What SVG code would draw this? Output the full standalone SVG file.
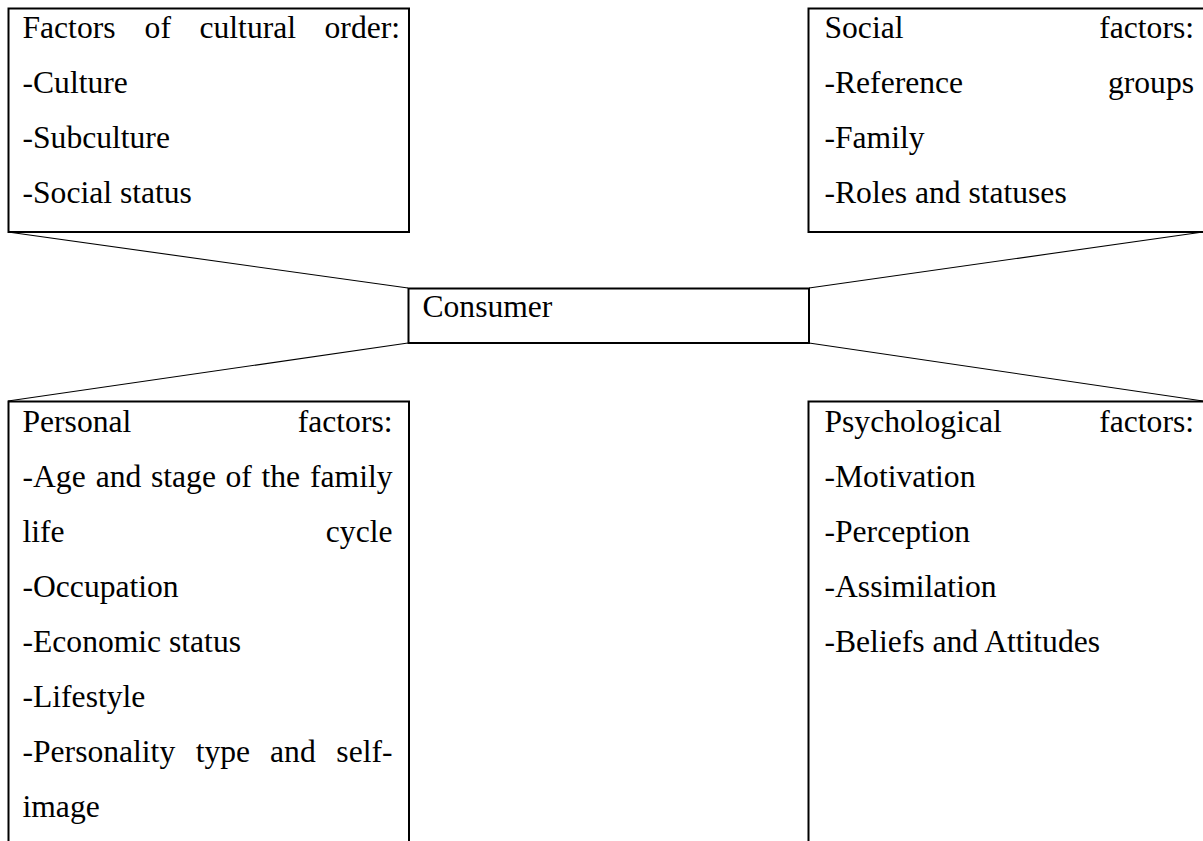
<svg xmlns="http://www.w3.org/2000/svg" width="1203" height="841" viewBox="0 0 1203 841">
<style>
.box{fill:#fff;stroke:#000;stroke-width:2}
.t{font-family:"Liberation Serif","Times New Roman",serif;font-size:31.6px;fill:#000}
.e{text-anchor:end}
.conn line{stroke:#000;stroke-width:1.1}
</style>
<rect width="1203" height="841" fill="#fff"/>
<g id="connectors" class="conn">
<line x1="8" y1="232" x2="408" y2="288"/>
<line x1="1203" y1="232" x2="809" y2="288"/>
<line x1="408" y1="343" x2="8" y2="401"/>
<line x1="809" y1="343" x2="1203" y2="401"/>
</g>
<g id="cultural">
<rect class="box" x="8.5" y="8.5" width="400.5" height="223.5"/>
<text class="t" x="22.5" y="38">Factors</text>
<text class="t" x="144.6" y="38">of</text>
<text class="t" x="199.5" y="38">cultural</text>
<text class="t e" x="400" y="38">order:</text>
<text class="t" x="22.5" y="93">-Culture</text>
<text class="t" x="22.5" y="148">-Subculture</text>
<text class="t" x="22.5" y="203">-Social status</text>
</g>
<g id="social">
<rect class="box" x="808.5" y="8.5" width="402" height="223.5"/>
<text class="t" x="824.5" y="38">Social</text>
<text class="t e" x="1194" y="38">factors:</text>
<text class="t" x="824.5" y="93">-Reference</text>
<text class="t e" x="1194" y="93">groups</text>
<text class="t" x="824.5" y="148">-Family</text>
<text class="t" x="824.5" y="203">-Roles and statuses</text>
</g>
<g id="consumer">
<rect class="box" x="408.5" y="288.5" width="400.5" height="54.5"/>
<text class="t" x="422.5" y="317">Consumer</text>
</g>
<g id="personal">
<rect class="box" x="8.5" y="401.5" width="400.5" height="460"/>
<text class="t" x="22.5" y="431.5">Personal</text>
<text class="t e" x="392.5" y="431.5">factors:</text>
<text class="t" x="22.5" y="486.5">-Age</text>
<text class="t" x="95.8" y="486.5">and</text>
<text class="t" x="151" y="486.5">stage</text>
<text class="t" x="225.5" y="486.5">of</text>
<text class="t" x="261.4" y="486.5">the</text>
<text class="t e" x="392.5" y="486.5">family</text>
<text class="t" x="22.5" y="541.5">life</text>
<text class="t e" x="392.5" y="541.5">cycle</text>
<text class="t" x="22.5" y="596.5">-Occupation</text>
<text class="t" x="22.5" y="651.5">-Economic status</text>
<text class="t" x="22.5" y="706.5">-Lifestyle</text>
<text class="t" x="22.5" y="761.5">-Personality</text>
<text class="t" x="195.7" y="761.5">type</text>
<text class="t" x="270.1" y="761.5">and</text>
<text class="t e" x="392.5" y="761.5">self-</text>
<text class="t" x="22.5" y="816.5">image</text>
</g>
<g id="psychological">
<rect class="box" x="808.5" y="401.5" width="402" height="460"/>
<text class="t" x="824.5" y="431.5">Psychological</text>
<text class="t e" x="1194" y="431.5">factors:</text>
<text class="t" x="824.5" y="486.5">-Motivation</text>
<text class="t" x="824.5" y="541.5">-Perception</text>
<text class="t" x="824.5" y="596.5">-Assimilation</text>
<text class="t" x="824.5" y="651.5">-Beliefs and Attitudes</text>
</g>
</svg>
